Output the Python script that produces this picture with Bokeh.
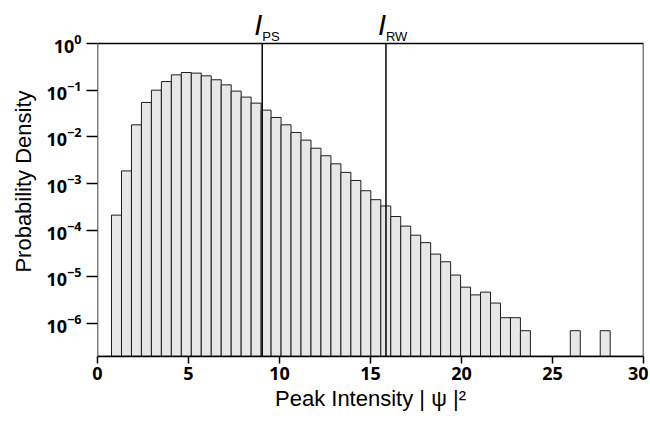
import numpy as np
from bokeh.plotting import figure
from bokeh.models import BoxAnnotation, FixedTicker, ColumnDataSource
from bokeh.embed import file_html
from bokeh.resources import INLINE

# histogram binning (50 equal bins)
bin_start = 0.77
bin_width = 0.548
density = [2.1e-4, 1.86e-3, 0.0181, 0.0545, 0.100, 0.153, 0.213, 0.239, 0.232, 0.203,
           0.167, 0.130, 0.0955, 0.071, 0.0528, 0.0373, 0.026, 0.0181, 0.0124, 0.0085,
           0.0057, 0.00393, 0.00264, 0.00173, 0.00116, 7.0e-4, 4.5e-4, 3.3e-4, 1.96e-4, 1.22e-4,
           7.8e-5, 5.4e-5, 3.07e-5, 2.1e-5, 1.09e-5, 6.0e-6, 4.1e-6, 4.7e-6, 2.74e-6, 1.33e-6,
           1.33e-6, 7.0e-7, 0, 0, 0, 0, 7.0e-7, 0, 0, 7.0e-7]
marker_x = [9.05, 15.85]
marker_sub = ["PS", "RW"]
x_ticks = [0, 5, 10, 15, 20, 25, 30]
y_ticks = [1e0, 1e-1, 1e-2, 1e-3, 1e-4, 1e-5, 1e-6]
x_min, x_max = 0, 30
y_min, y_max = 1.96e-7, 1.0
y_headroom = 6.21  # range extends above y_max to host the marker labels

edges = bin_start + bin_width * np.arange(len(density) + 1)
dens = np.array(density)
mask = dens > 0
src = ColumnDataSource(dict(
    left=edges[:-1][mask], right=edges[1:][mask], top=dens[mask],
    bottom=np.full(mask.sum(), 1e-9)))
msrc = ColumnDataSource(dict(
    x=marker_x, y0=[y_min * 1e-2] * len(marker_x), y1=[y_max] * len(marker_x),
    i=["I"] * len(marker_x), sub=marker_sub))

p = figure(width=648, height=429, x_range=(x_min, x_max), y_range=(y_min, y_headroom),
           y_axis_type="log", output_backend="svg", toolbar_location=None,
           min_border_left=97, min_border_right=5, min_border_top=6,
           min_border_bottom=73)
p.background_fill_color = "white"
p.border_fill_color = "white"
p.outline_line_color = None
p.xgrid.visible = False
p.ygrid.visible = False

p.quad(left="left", right="right", top="top", bottom="bottom", source=src,
       fill_color="#e7e7e7", line_color="#1e1e1e", line_width=1)

p.segment(x0="x", y0="y0", x1="x", y1="y1", source=msrc, line_color="black",
          line_width=1.5)

p.add_layout(BoxAnnotation(left=x_min, right=x_max, top=y_max, fill_color=None,
                           fill_alpha=0, line_color="black", line_alpha=1.0,
                           line_width=1.5))

p.text(x="x", y="y1", text="i", source=msrc, text_font={"value": "Liberation Sans"},
       text_font_style="italic", text_font_size="29px", text_align="right",
       text_baseline="middle", x_offset=0, y_offset=-19, text_color="black")
p.text(x="x", y="y1", text="sub", source=msrc, text_font={"value": "Liberation Sans"},
       text_font_size="13px", text_align="left", text_baseline="middle",
       x_offset=0, y_offset=-7, text_color="black")

p.xaxis.ticker = FixedTicker(ticks=x_ticks)
p.yaxis.ticker = FixedTicker(ticks=y_ticks, minor_ticks=[])
for ax in (p.xaxis, p.yaxis):
    ax.axis_line_color = "black"
    ax.axis_line_width = 1.5
    ax.major_tick_line_color = "black"
    ax.major_tick_line_width = 1.5
    ax.minor_tick_line_color = None
    ax.major_tick_in = 0
    ax.major_label_text_font = "Open Sans"
    ax.major_label_text_font_style = "bold"
    ax.major_label_text_font_size = "18px"
    ax.major_label_text_color = "black"
    ax.axis_label_text_font = "Liberation Sans"
    ax.axis_label_text_font_style = "normal"
    ax.axis_label_text_font_size = "22px"
    ax.axis_label_text_color = "black"
p.yaxis.axis_line_color = None
p.xaxis.major_tick_out = 7
p.yaxis.major_tick_out = 11
p.xaxis.major_label_standoff = 3
p.yaxis.major_label_standoff = 5

p.xaxis.axis_label = "Peak Intensity | ψ |²"
p.xaxis.axis_label_standoff = 3
p.yaxis.axis_label = "Probability Density"
p.yaxis.axis_label_standoff = 8

open("out.html", "w").write(file_html(p, INLINE))
